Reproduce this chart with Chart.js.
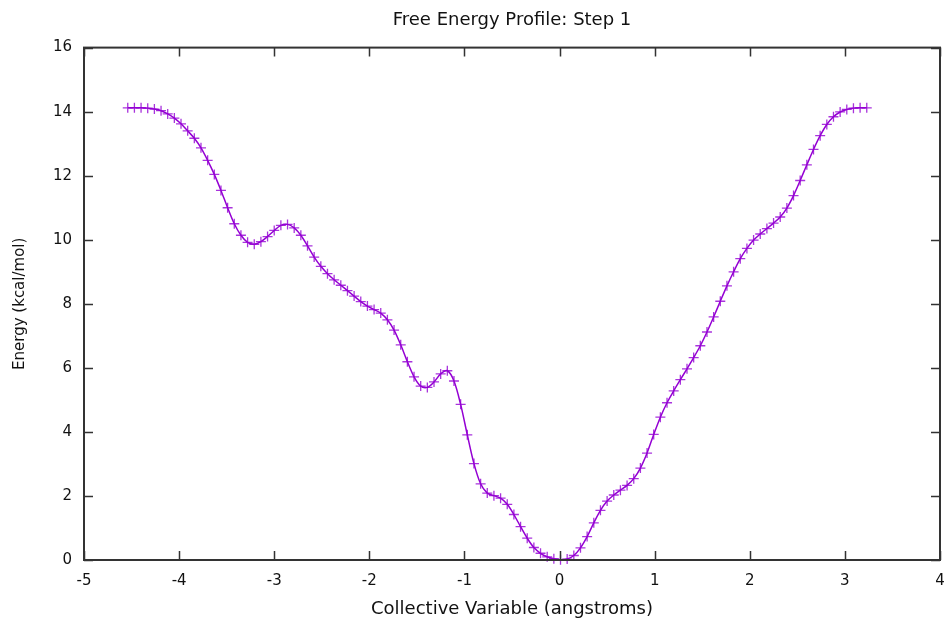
<!DOCTYPE html>
<html>
<head>
<meta charset="utf-8">
<script src="https://cdn.jsdelivr.net/npm/chart.js@4.4.1/dist/chart.umd.min.js"></script>
<style>
    html, body { margin: 0; padding: 0; background: #fff; overflow: hidden; }
    #wrap { width: 1024px; height: 619px; }
</style>
</head>
<body>
<div id="wrap"><canvas id="fep" width="1024" height="619"></canvas></div>
<script>
// Collective variable (angstroms)
const cvValues = [
    -4.54, -4.47, -4.40, -4.33, -4.26, -4.19, -4.12, -4.05, -3.98, -3.91,
    -3.84, -3.77, -3.70, -3.63, -3.56, -3.49, -3.42, -3.35, -3.28, -3.21,
    -3.14, -3.07, -3.00, -2.93, -2.86, -2.79, -2.72, -2.65, -2.58, -2.51,
    -2.44, -2.37, -2.30, -2.23, -2.16, -2.09, -2.02, -1.95, -1.88, -1.81,
    -1.74, -1.67, -1.60, -1.53, -1.46, -1.39, -1.32, -1.25, -1.18, -1.11,
    -1.04, -0.97, -0.90, -0.83, -0.76, -0.69, -0.62, -0.55, -0.48, -0.41,
    -0.34, -0.27, -0.20, -0.13, -0.06, 0.01, 0.08, 0.15, 0.22, 0.29,
    0.36, 0.43, 0.50, 0.57, 0.64, 0.71, 0.78, 0.85, 0.92, 0.99,
    1.06, 1.13, 1.20, 1.27, 1.34, 1.41, 1.48, 1.55, 1.62, 1.69,
    1.76, 1.83, 1.90, 1.97, 2.04, 2.11, 2.18, 2.25, 2.32, 2.39,
    2.46, 2.53, 2.60, 2.67, 2.74, 2.81, 2.88, 2.95, 3.02, 3.09,
    3.16, 3.23
];

// Free energy (kcal/mol)
const energyValues = [
    14.12, 14.12, 14.12, 14.11, 14.08, 14.03, 13.93, 13.80, 13.62, 13.40,
    13.17, 12.87, 12.48, 12.04, 11.54, 11.00, 10.50, 10.14, 9.92, 9.86,
    9.94, 10.10, 10.29, 10.45, 10.48, 10.37, 10.14, 9.81, 9.46, 9.17,
    8.94, 8.75, 8.58, 8.41, 8.24, 8.07, 7.93, 7.82, 7.71, 7.50,
    7.18, 6.72, 6.19, 5.72, 5.43, 5.39, 5.56, 5.81, 5.91, 5.59,
    4.86, 3.91, 3.01, 2.38, 2.09, 2.01, 1.93, 1.74, 1.42, 1.04,
    0.68, 0.39, 0.21, 0.10, 0.04, 0.01, 0.03, 0.14, 0.38, 0.73,
    1.16, 1.55, 1.84, 2.03, 2.18, 2.33, 2.54, 2.87, 3.34, 3.92,
    4.46, 4.91, 5.28, 5.63, 5.97, 6.32, 6.69, 7.12, 7.59, 8.08,
    8.56, 9.00, 9.41, 9.73, 9.99, 10.18, 10.35, 10.52, 10.71, 10.99,
    11.38, 11.85, 12.34, 12.82, 13.25, 13.60, 13.84, 13.99, 14.07, 14.11,
    14.12, 14.12
];

const xTicks = [-5, -4, -3, -2, -1, 0, 1, 2, 3, 4];
const yTicks = [0, 2, 4, 6, 8, 10, 12, 14, 16];

const FONT = 'DejaVu Sans';
const TEXT = '#111';
const FRAME = '#333';

// gnuplot style frame with inward ticks on all four sides
const framePlugin = {
    id: 'frame',
    afterDatasetsDraw(chart) {
        const { ctx, chartArea: a, scales } = chart;
        const len = 9;
        ctx.save();
        ctx.strokeStyle = FRAME;
        ctx.lineWidth = 1.5;
        ctx.beginPath();
        xTicks.forEach(v => {
            const px = Math.round(scales.x.getPixelForValue(v)) + 0.5;
            ctx.moveTo(px, a.bottom); ctx.lineTo(px, a.bottom - len);
            ctx.moveTo(px, a.top); ctx.lineTo(px, a.top + len);
        });
        yTicks.forEach(v => {
            const py = Math.round(scales.y.getPixelForValue(v)) + 0.5;
            ctx.moveTo(a.left, py); ctx.lineTo(a.left + len, py);
            ctx.moveTo(a.right, py); ctx.lineTo(a.right - len, py);
        });
        ctx.stroke();
        ctx.lineWidth = 2;
        ctx.strokeRect(a.left, a.top, a.right - a.left, a.bottom - a.top);
        ctx.restore();
    }
};

const ctx = document.getElementById('fep').getContext('2d');

new Chart(ctx, {
    type: 'scatter',
    data: {
        datasets: [{
            label: 'FEP',
            data: cvValues.map((x, i) => ({ x: x, y: energyValues[i] })),
            showLine: true,
            borderColor: '#9400d3',
            backgroundColor: '#9400d3',
            borderWidth: 1.5,
            tension: 0.3,
            pointStyle: 'cross',
            pointRadius: 5,
            pointBorderWidth: 1.3,
            pointBorderColor: 'rgba(148, 0, 211, 0.8)',
            clip: false
        }]
    },
    plugins: [framePlugin],
    options: {
        responsive: false,
        animation: false,
        layout: { padding: 0 },
        plugins: {
            legend: { display: false },
            tooltip: { enabled: false },
            title: {
                display: true,
                text: 'Free Energy Profile: Step 1',
                color: TEXT,
                font: { family: FONT, size: 18, weight: 'normal' },
                padding: { top: 10, bottom: 16 }
            }
        },
        scales: {
            x: {
                type: 'linear',
                min: -5,
                max: 4,
                afterBuildTicks(scale) { scale.ticks = xTicks.map(v => ({ value: v })); },
                afterFit(scale) {
                    scale.height = 59;
                    scale.paddingRight = 84; // plot frame ends at x = 940
                },
                grid: { display: false, drawTicks: false },
                border: { display: false },
                ticks: { color: TEXT, padding: 12, font: { family: FONT, size: 15 } },
                title: {
                    display: true,
                    text: 'Collective Variable (angstroms)',
                    color: TEXT,
                    font: { family: FONT, size: 18 },
                    padding: { top: 9, bottom: -1 }
                }
            },
            y: {
                min: 0,
                max: 16,
                afterBuildTicks(scale) { scale.ticks = yTicks.map(v => ({ value: v })); },
                afterFit(scale) { scale.width = 84; },
                grid: { display: false, drawTicks: false },
                border: { display: false },
                ticks: { color: TEXT, padding: 12, font: { family: FONT, size: 15 } },
                title: {
                    display: true,
                    text: 'Energy (kcal/mol)',
                    color: TEXT,
                    font: { family: FONT, size: 15 },
                    padding: { top: 11, bottom: 0 }
                }
            }
        }
    }
});
</script>
</body>
</html>
